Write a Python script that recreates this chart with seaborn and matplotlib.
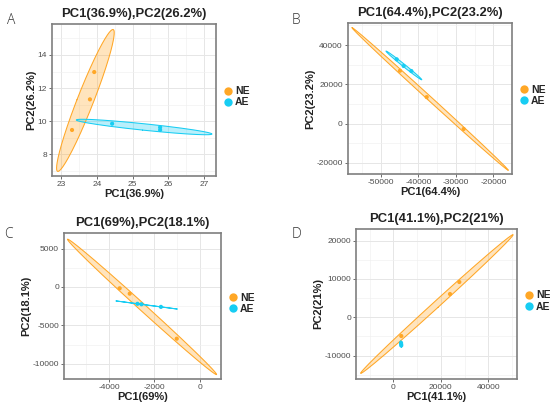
import numpy as np
import pandas as pd
import seaborn as sns
import matplotlib.pyplot as plt
from matplotlib.lines import Line2D
from matplotlib.ticker import MultipleLocator, AutoMinorLocator

# PCA scores (PC1, PC2) for each group
a_ne_pc1 = [23.93, 23.81, 23.31]
a_ne_pc2 = [12.97, 11.32, 9.47]
a_ae_pc1 = [24.43, 25.77, 25.77]
a_ae_pc2 = [9.85, 9.63, 9.47]

b_ne_pc1 = [-44925, -37800, -27920]
b_ne_pc2 = [26930, 13500, -2714]
b_ae_pc1 = [-45810, -43940, -41900]
b_ae_pc2 = [32730, 29320, 26780]

c_ne_pc1 = [-3530, -3088, -1022]
c_ne_pc2 = [-170, -870, -6730]
c_ae_pc1 = [-2748, -2571, -1717]
c_ae_pc2 = [-2190, -2250, -2590]

d_ne_pc1 = [3370, 23870, 27790]
d_ne_pc2 = [-4880, 6080, 9210]
d_ae_pc1 = [3250, 3300, 3350]
d_ae_pc2 = [-6650, -7000, -7350]

panel_letters = ["A", "B", "C", "D"]
pc1_pct = ["36.9%", "64.4%", "69%", "41.1%"]
pc2_pct = ["26.2%", "23.2%", "18.1%", "21%"]
groups = ["NE", "AE"]

colors = {"NE": "#FFA726", "AE": "#17CDF3"}

panels = [
    (a_ne_pc1, a_ne_pc2, a_ae_pc1, a_ae_pc2),
    (b_ne_pc1, b_ne_pc2, b_ae_pc1, b_ae_pc2),
    (c_ne_pc1, c_ne_pc2, c_ae_pc1, c_ae_pc2),
    (d_ne_pc1, d_ne_pc2, d_ae_pc1, d_ae_pc2),
]

# axis settings (limits, tick steps)
xlims = [(22.75, 27.33), (-58810, -15020), (-5975, 925), (-15700, 52080)]
ylims = [(6.69, 15.87), (-25600, 51190), (-11980, 7030), (-16100, 23050)]
xsteps = [1, 10000, 2000, 20000]
ysteps = [2, 20000, 5000, 10000]

# axes rectangles in figure fraction
rects = [
    [0.0945, 0.5654, 0.2982, 0.3753],
    [0.6327, 0.5704, 0.2982, 0.3728],
    [0.1164, 0.0642, 0.2855, 0.3605],
    [0.6473, 0.0642, 0.2927, 0.3704],
]
letter_pos = [(0.013, 0.94), (0.531, 0.94), (0.007, 0.412), (0.531, 0.412)]


def conf_ellipse(x, y, level_r=np.sqrt(5.991), n=200):
    # 95% normal ellipse from the sample covariance
    xy = np.column_stack([x, y])
    mu = xy.mean(axis=0)
    cov = np.cov(xy, rowvar=False)
    vals, vecs = np.linalg.eigh(cov)
    vals = np.clip(vals, 0, None)
    t = np.linspace(0, 2 * np.pi, n)
    circ = np.vstack([np.cos(t), np.sin(t)])
    pts = vecs @ (np.sqrt(vals)[:, None] * circ) * level_r
    return mu[0] + pts[0], mu[1] + pts[1]


sns.set_theme(style="white")
plt.rcParams["font.family"] = ["Liberation Sans", "DejaVu Sans"]
plt.rcParams["axes.unicode_minus"] = False

fig = plt.figure(figsize=(5.5, 4.05), dpi=100)

for i, (ne_x, ne_y, ae_x, ae_y) in enumerate(panels):
    ax = fig.add_axes(rects[i])
    df = pd.DataFrame({
        "PC1": list(ne_x) + list(ae_x),
        "PC2": list(ne_y) + list(ae_y),
        "group": ["NE"] * len(ne_x) + ["AE"] * len(ae_x),
    })

    for g in groups:
        sub = df[df["group"] == g]
        ex, ey = conf_ellipse(sub["PC1"].values, sub["PC2"].values)
        ax.fill(ex, ey, facecolor=colors[g], alpha=0.3, edgecolor="none", zorder=2)
        ax.plot(ex, ey, color=colors[g], lw=0.75, zorder=3)

    sns.scatterplot(data=df, x="PC1", y="PC2", hue="group", palette=colors,
                    hue_order=groups, s=9, linewidth=0, legend=False, ax=ax, zorder=4)

    ax.set_xlim(*xlims[i])
    ax.set_ylim(*ylims[i])
    ax.xaxis.set_major_locator(MultipleLocator(xsteps[i]))
    ax.yaxis.set_major_locator(MultipleLocator(ysteps[i]))
    ax.xaxis.set_minor_locator(AutoMinorLocator(2))
    ax.yaxis.set_minor_locator(AutoMinorLocator(2))
    ax.grid(which="major", color="#E6E6E6", lw=0.7, zorder=0)
    ax.grid(which="minor", color="#F0F0F0", lw=0.45, zorder=0)
    ax.set_axisbelow(True)
    ax.tick_params(which="major", length=2.2, width=0.6, color="#555555",
                   labelsize=6, labelcolor="#4D4D4D", pad=1.5,
                   bottom=True, left=True)
    ax.tick_params(which="minor", length=0)
    for sp in ax.spines.values():
        sp.set_color("#7F7F7F")
        sp.set_linewidth(1.2)

    ax.set_xlabel(f"PC1({pc1_pct[i]})", fontsize=8, fontweight="bold",
                  color="#222222", labelpad=0.5)
    ax.set_ylabel(f"PC2({pc2_pct[i]})", fontsize=8, fontweight="bold",
                  color="#222222", labelpad=1)
    ax.set_title(f"PC1({pc1_pct[i]}),PC2({pc2_pct[i]})", fontsize=9.4,
                 fontweight="bold", color="#222222", pad=5)

    handles = [Line2D([], [], marker="o", ls="", markersize=6,
                      markerfacecolor=colors[g], markeredgewidth=0) for g in groups]
    ax.legend(handles, groups, loc="center left", bbox_to_anchor=(1.02, 0.52),
              frameon=False, handlelength=0.8, handletextpad=0.3,
              labelspacing=0.1, borderaxespad=0.0,
              prop={"size": 7.5, "weight": "bold"})

    fig.text(letter_pos[i][0], letter_pos[i][1], panel_letters[i],
             fontsize=10, color="#333333", family="Open Sans", fontweight="light")

fig.savefig("out.png", dpi=100)
